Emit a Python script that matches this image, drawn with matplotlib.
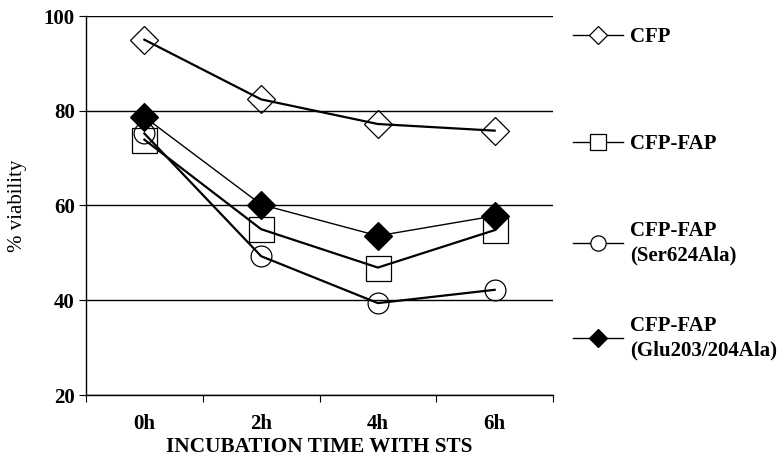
import matplotlib.pyplot as plt
from matplotlib.lines import Line2D

plt.rcParams['font.family'] = ['Liberation Serif', 'DejaVu Serif']

TIMES = ["0h", "2h", "4h", "6h"]
CFP = [95.0, 82.4, 77.2, 75.8]
CFP_FAP = [73.9, 55.0, 46.9, 54.8]
SER624 = [75.2, 49.3, 39.4, 42.2]
GLU203 = [78.7, 60.2, 53.6, 57.8]

LABELS = ["CFP", "CFP-FAP", "CFP-FAP\n(Ser624Ala)", "CFP-FAP\n(Glu203/204Ala)"]

W, H = 782, 461
fig = plt.figure(figsize=(W / 100, H / 100), dpi=100)
ax = fig.add_axes([86 / W, 1 - 395 / H, (553 - 86) / W, (395 - 16) / H])

x = list(range(len(TIMES)))
styles = [
    (CFP, dict(marker="D", ms=14, mfc="none", lw=1.6)),
    (CFP_FAP, dict(marker="s", ms=18, mfc="none", lw=1.6)),
    (SER624, dict(marker="o", ms=15, mfc="none", lw=1.6)),
    (GLU203, dict(marker="D", ms=14, mfc="black", lw=1.0)),
]
for vals, st in styles:
    ax.plot(x, vals, color="black", mec="black", mew=0.9, **st)

ax.set_xlim(-0.5, 3.5)
ax.set_ylim(20, 100)
ax.set_yticks([20, 40, 60, 80, 100])
ax.set_xticks(x, TIMES)
ax.set_xticks([-0.5, 0.5, 1.5, 2.5, 3.5], minor=True)
ax.tick_params(axis="x", which="major", length=0, pad=14)
ax.tick_params(axis="x", which="minor", length=5, width=0.8, direction="out")
ax.tick_params(axis="y", length=5, width=0.8, direction="out", pad=3)
for lab in ax.get_xticklabels() + ax.get_yticklabels():
    lab.set_fontsize(15)
    lab.set_fontweight("bold")
ax.yaxis.grid(True, color="black", lw=1.0)
ax.set_axisbelow(True)
for s in ["top", "right"]:
    ax.spines[s].set_visible(False)
ax.spines["left"].set_linewidth(1.0)
ax.spines["bottom"].set_linewidth(1.0)

ax.set_ylabel("% viability", fontsize=15, labelpad=12)
ax.set_xlabel("INCUBATION TIME WITH STS", fontsize=15.3, fontweight="bold", labelpad=2)

# legend: one block per series, spaced like the original
leg_y = [37, 144, 243, 338]
leg_style = [
    dict(marker="D", ms=9.5, mfc="white"),
    dict(marker="s", ms=12, mfc="white"),
    dict(marker="o", ms=11, mfc="white"),
    dict(marker="D", ms=9.5, mfc="black"),
]
for lab, yc, st in zip(LABELS, leg_y, leg_style):
    h = Line2D([], [], color="black", lw=1.0, mec="black", mew=0.9, **st)
    lg = fig.legend([h], [lab], loc="center left", bbox_to_anchor=(573 / W, 1 - yc / H),
                    frameon=False, borderpad=0, borderaxespad=0, handlelength=2.4,
                    handletextpad=0.35, prop=dict(size=15, weight="bold"))
    for t in lg.get_texts():
        t.set_linespacing(1.3)

fig.savefig("out.png", dpi=100)
